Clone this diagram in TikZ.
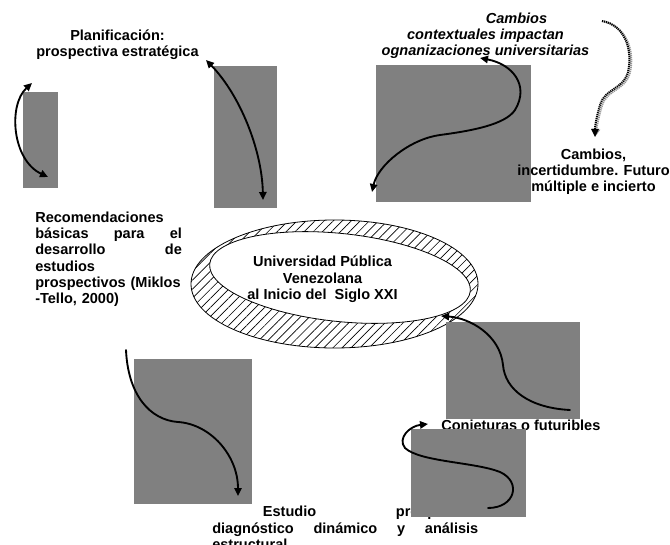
\documentclass[tikz,border=0pt]{standalone}
\usepackage{fontspec}
\setmainfont{Liberation Sans}
\usetikzlibrary{arrows.meta,patterns.meta}

\definecolor{boxgray}{RGB}{128,128,128}
\definecolor{shadowgray}{RGB}{150,150,150}

\begin{document}
\begin{tikzpicture}[x=0.75pt,y=-0.75pt,
  lbl/.style={font=\fontsize{10.9}{12.2}\selectfont\bfseries, inner sep=0pt},
  ilbl/.style={lbl, font=\fontsize{10.9}{12.2}\selectfont\bfseries\itshape},
  panel/.style={fill=boxgray, draw=none},
  flow/.style={line width=1.4pt, line cap=round},
  endtip/.style={arrows={-Triangle[length=6pt,width=5.5pt]}},
  twotips/.style={arrows={Triangle[length=6pt,width=5.5pt]-Triangle[length=6pt,width=5.5pt]}},
  dotline/.style={line width=1.5pt, dash pattern=on 0.9pt off 0.6pt,
                  arrows={-Triangle[length=6pt,width=5.5pt]}}
]
\useasboundingbox (0,0) rectangle (670,545);

% texts partly hidden by the gray panels
\node[lbl, anchor=north west, text width=199.5pt, align=left] (estudio) at (212,506)
  {\hspace*{38pt}Estudio\hfill prospectivo\\
   diagnóstico\hfill dinámico\hfill y\hfill análisis\\
   estructural};
\node[lbl, anchor=base west] (conjeturas) at (441,430) {Conjeturas o futuribles};

% central ring: hatched band between two ellipses
\path[pattern={Lines[angle=45,distance=4.8pt,line width=0.5pt]}]
  (334.5,284) ellipse [x radius=143.5, y radius=64];
\draw[line width=0.6pt] (334.5,284) ellipse [x radius=143.5, y radius=64];
\filldraw[fill=white, line width=0.6pt, rotate around={-6:(340,277.5)}]
  (340,277.5) ellipse [x radius=131, y radius=44];
\node[lbl, anchor=north, align=center] (univ) at (322.5,256)
  {Universidad Pública\\ Venezolana\\ al Inicio del~~Siglo XXI};

% gray panels
\fill[panel] (23,92) rectangle (58,188);
\fill[panel] (214,66) rectangle (277,208);
\fill[panel] (376,65) rectangle (531,202);
\fill[panel] (134,359) rectangle (252,504);
\fill[panel] (446,322) rectangle (580,419);
\fill[panel] (411,429) rectangle (526,517);

% curve end points
\coordinate (a1s) at (48,177);   \coordinate (a1e) at (32,83);
\coordinate (a2s) at (206,60);   \coordinate (a2e) at (263,200);
\coordinate (a3s) at (480,58);   \coordinate (a3e) at (372,192);
\coordinate (a4s) at (602,21);   \coordinate (a4e) at (595,137);
\coordinate (a5s) at (126,350);  \coordinate (a5e) at (238,496);
\coordinate (a6s) at (570,410);  \coordinate (a6e) at (441,316);
\coordinate (a7s) at (488,508);  \coordinate (a7e) at (428,424);

% curved arrows
\draw[flow, twotips] (a1s) .. controls (12,160) and (8,105) .. (a1e);
\draw[flow, twotips] (a2s) .. controls (240,95) and (262,150) .. (a2e);
\draw[flow, twotips] (a3s) .. controls (512,64) and (530,85) .. (515,110)
  .. controls (505,125) and (470,131) .. (440,135)
  .. controls (410,139) and (378,165) .. (a3e);
\draw[flow, endtip] (a5s) .. controls (128,395) and (150,420) .. (178,422)
  .. controls (210,424) and (238,455) .. (a5e);
\draw[flow, endtip] (a6s) .. controls (530,408) and (505,390) .. (503,365)
  .. controls (500,335) and (470,318) .. (a6e);
\draw[flow, endtip] (a7s) .. controls (515,508) and (522,482) .. (500,472)
  .. controls (475,462) and (420,462) .. (405,448)
  .. controls (397,438) and (410,426) .. (a7e);

% dotted arrow with its gray shadow
\draw[dotline, shadowgray, xshift=1.4pt, yshift=-0.7pt]
  (a4s) .. controls (625,25) and (633,50) .. (628,72)
  .. controls (623,90) and (605,88) .. (600,105)
  .. controls (597,115) and (595,125) .. (a4e);
\draw[dotline]
  (a4s) .. controls (625,25) and (633,50) .. (628,72)
  .. controls (623,90) and (605,88) .. (600,105)
  .. controls (597,115) and (595,125) .. (a4e);

% labels
\node[lbl, anchor=north, align=center] (plan) at (117.5,29.4)
  {Planificación:\\ prospectiva estratégica};
\node[ilbl, anchor=north, align=center] (cambios) at (485.5,12.4)
  {\hspace*{46.5pt}Cambios\\ contextuales impactan\\ ognanizaciones universitarias};
\node[lbl, anchor=north, align=center] (futuro) at (593.5,148.5)
  {Cambios,\\ incertidumbre. Futuro\\ múltiple e incierto};
\node[lbl, anchor=north west, text width=110pt, align=left] (recom) at (35,211.5)
  {Recomendaciones\\
   básicas\hfill para\hfill el\\
   desarrollo\hfill de\\
   estudios\\
   \mbox{prospectivos (Miklos}\\
   -Tello, 2000)};
\end{tikzpicture}
\end{document}
